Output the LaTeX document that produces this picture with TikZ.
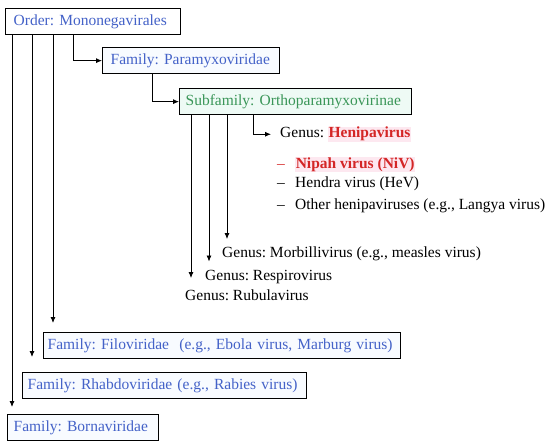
\documentclass[tikz,border=0pt]{standalone}
\usepackage{fontspec}
\setmainfont{Liberation Serif}
\usetikzlibrary{arrows.meta, positioning}
\frenchspacing

\definecolor{taxblue}{RGB}{68,98,200}
\definecolor{subgreen}{RGB}{58,150,88}
\definecolor{henred}{RGB}{212,38,38}
\definecolor{mintfill}{RGB}{238,250,245}
\definecolor{boxfill}{RGB}{248,251,255}
\definecolor{pinkhl}{RGB}{253,232,240}

\begin{document}
\begin{tikzpicture}[x=1pt, y=-1pt, font=\fontsize{15.5}{18}\selectfont,
    taxbox/.style={draw, line width=1.3pt, anchor=north west, minimum height=26pt,
      inner xsep=5pt, inner ysep=2pt, align=left, fill=boxfill, text=taxblue,
      execute at begin node={\hyphenpenalty=10000\relax}},
    genus/.style={anchor=base west, inner sep=1pt},
    link/.style={line width=0.8pt, -{Latex[length=6pt,width=5pt]}}]
  \useasboundingbox (0,0) rectangle (550,444);
  \fboxsep=0.6pt
  % taxa boxes
  \node[taxbox, fill=white, inner xsep=8pt, text width=159pt] (ord) at (5,8) {Order: Mononegavirales};
  \node[taxbox, inner xsep=8pt, text width=161pt] (par) at (102,47) {Family: Paramyxoviridae};
  \node[taxbox, fill=mintfill, text=subgreen, inner xsep=6pt, text width=220pt] (sub) at (179,88) {Subfamily: Orthoparamyxovirinae};
  \node[taxbox, inner xsep=4pt, text width=349pt] (fil) at (43,332) {Family: Filoviridae\ \ (e.g., Ebola virus, Marburg virus)};
  \node[taxbox, text width=274pt] (rha) at (22,372) {Family: Rhabdoviridae (e.g., Rabies virus)};
  \node[taxbox, inner xsep=6pt, text width=139pt] (bor) at (7,414) {Family: Bornaviridae};
  % genera
  \node[genus] (hen) at (279,138) {Genus: \colorbox{pinkhl}{\textcolor{henred}{\textbf{Henipavirus}}}};
  \node[genus, text=henred] (niv) at (276,168) {\makebox[18pt][l]{--}\colorbox{pinkhl}{\textbf{Nipah virus (NiV)}}};
  \node[genus] (hev) at (276,187) {\makebox[18pt][l]{--}Hendra virus (HeV)};
  \node[genus] (oth) at (276,209) {\makebox[18pt][l]{--}Other henipaviruses (e.g., Langya virus)};
  \node[genus] (mor) at (221,258) {Genus: Morbillivirus (e.g., measles virus)};
  \node[genus] (res) at (204,280) {Genus: Respirovirus};
  \node[genus] (rub) at (184,300) {Genus: Rubulavirus};
  % connector columns
  \coordinate (v1) at (12,0);
  \coordinate (v2) at (32,0);
  \coordinate (v3) at (53,0);
  \coordinate (v4) at (73,0);
  \coordinate (v5) at (152,0);
  \coordinate (c1) at (227,0);
  \coordinate (c2) at (209,0);
  \coordinate (c3) at (191,0);
  \coordinate (h1) at (253,0);
  \draw[link] (ord.south -| v4) |- (par.west);
  \draw[link] (par.south -| v5) |- (sub.west);
  \draw[link, shorten >=8pt] (sub.south -| h1) |- (hen.west);
  \draw[link, shorten >=7pt] (sub.south -| c1) -- (mor.north -| c1);
  \draw[link, shorten >=7pt] (sub.south -| c2) -- (res.north -| c2);
  \draw[link, shorten >=10pt] (sub.south -| c3) -- (rub.north -| c3);
  \draw[link, shorten >=9pt] (ord.south -| v3) -- (fil.north -| v3);
  \draw[link, shorten >=15pt] (ord.south -| v2) -- (rha.north -| v2);
  \draw[link, shorten >=7pt] (ord.south -| v1) -- (bor.north -| v1);
\end{tikzpicture}
\end{document}
